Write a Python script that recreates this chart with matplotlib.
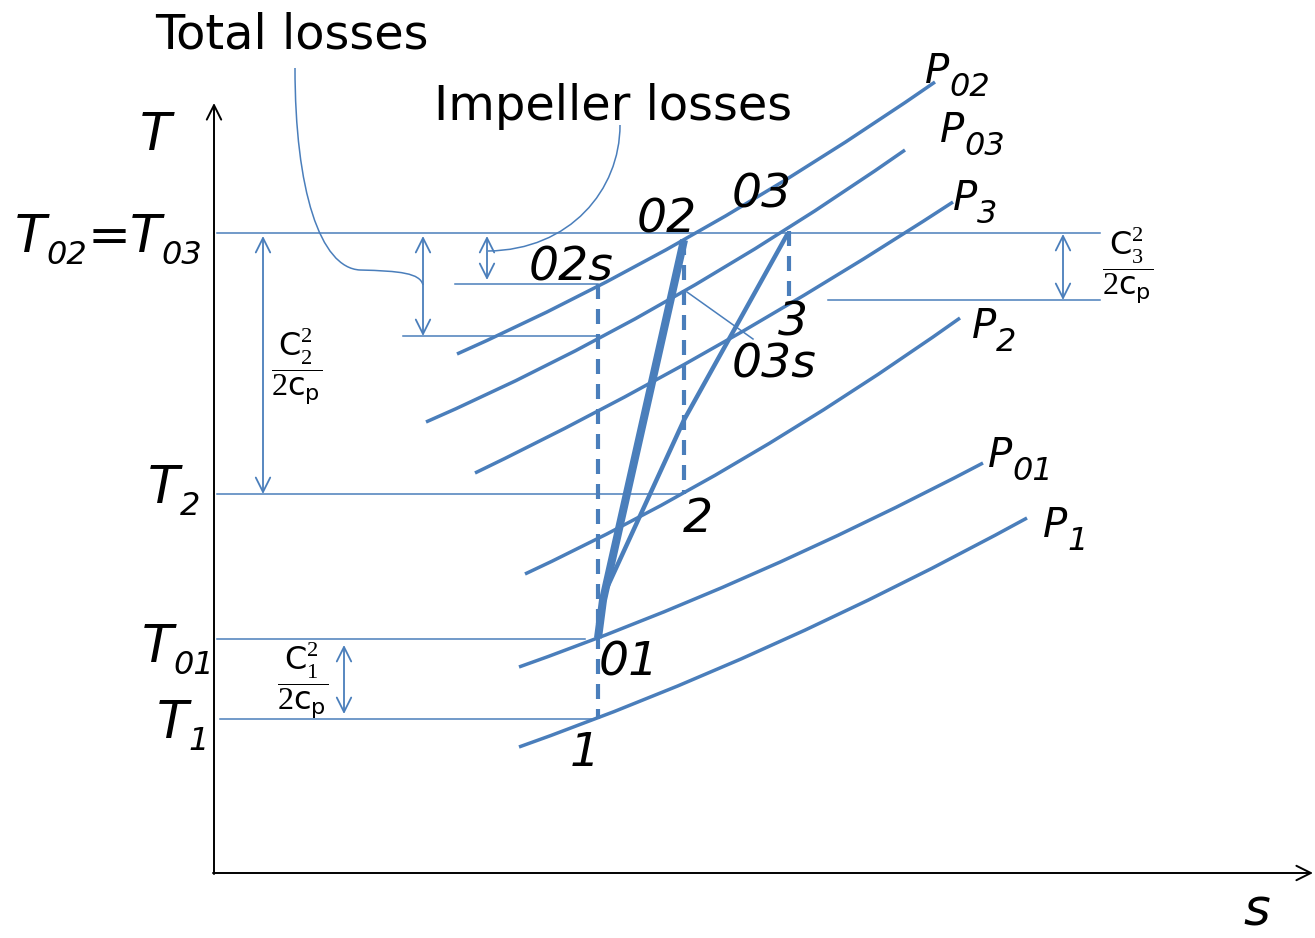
import matplotlib.pyplot as plt
from matplotlib.path import Path
from matplotlib.patches import PathPatch

plt.rcParams['font.family'] = 'DejaVu Sans'
plt.rcParams['mathtext.fontset'] = 'custom'
plt.rcParams['mathtext.it'] = 'DejaVu Sans:italic'
plt.rcParams['mathtext.rm'] = 'DejaVu Sans:italic'
plt.rcParams['mathtext.sf'] = 'DejaVu Sans'
plt.rcParams['mathtext.bf'] = 'Liberation Serif'

BLUE = '#4a7ebb'

# constant pressure lines, each as start / bend / end point in (s, T)
isobar_names = ['02', '03', '3', '2', '01', '1']
isobar_start = [(2.43, 5.19), (2.12, 4.51), (2.61, 4.00), (3.11, 2.99), (3.05, 2.06), (3.05, 1.26)]
isobar_bend = [(4.82, 6.25), (4.51, 5.55), (5.00, 5.15), (5.28, 4.00), (5.37, 2.88), (5.59, 2.16)]
isobar_end = [(7.21, 7.91), (6.91, 7.23), (7.39, 6.71), (7.46, 5.55), (7.69, 4.10), (8.13, 3.55)]

# state points
state_names = ['1', '01', '2', '02s', '02', '03s', '03', '3']
state_s = [3.81, 3.84, 4.70, 3.84, 4.70, 3.84, 5.74, 5.75]
state_T = [1.54, 2.35, 3.79, 5.89, 6.33, 5.37, 6.40, 5.73]

# compression paths 01 -> 02 (impeller) and 01 -> 03 (whole stage)
impeller_s = [3.84, 3.89, 4.70]
impeller_T = [2.35, 2.73, 6.33]
stage_s = [3.84, 3.92, 4.70, 5.74]
stage_T = [2.38, 2.83, 4.53, 6.40]

# temperature levels: T, s from, s to
level_T = [6.40, 5.89, 5.37, 3.79, 2.34, 1.54, 5.73]
level_s0 = [0.03, 2.41, 1.89, 0.03, 0.03, 0.06, 6.14]
level_s1 = [8.86, 3.84, 3.84, 4.66, 3.71, 3.81, 8.86]

# vertical drops: s, T top, T bottom
drop_s = [3.84, 4.70, 5.75]
drop_top = [5.89, 6.33, 6.42]
drop_bot = [1.54, 3.79, 5.73]

# dimension arrows: s, T top, T bottom
dim_s = [0.49, 2.09, 2.73, 8.49, 1.30]
dim_top = [6.37, 6.37, 6.37, 6.39, 2.28]
dim_bot = [3.79, 5.37, 5.93, 5.73, 1.59]

fig = plt.figure(figsize=(13.15, 9.38), dpi=100)
ax = fig.add_axes([0, 0, 1, 1])
ax.set_xlim(-2.14, 11.01)
ax.set_ylim(-0.65, 8.73)
ax.axis('off')
renderer = fig.canvas.get_renderer()


def sub_label(x, y, parts, size, sub_size, drop):
    # parts: (text, is subscript), laid out left to right from (x, y)
    dx = 0
    for text, is_sub in parts:
        t = ax.annotate(text, xy=(x, y), xytext=(dx, -drop if is_sub else 0),
                        textcoords='offset pixels',
                        fontsize=sub_size if is_sub else size,
                        fontstyle='italic', ha='left', va='baseline')
        dx += t.get_window_extent(renderer).width


# axes with open arrow heads
ax.annotate('', xy=(0, 7.70), xytext=(0, -0.01),
            arrowprops=dict(arrowstyle='->', color='black', lw=1.4,
                            mutation_scale=26, shrinkA=0, shrinkB=0))
ax.annotate('', xy=(10.99, 0), xytext=(-0.01, 0),
            arrowprops=dict(arrowstyle='->', color='black', lw=1.4,
                            mutation_scale=26, shrinkA=0, shrinkB=0))

for p0, c, p1 in zip(isobar_start, isobar_bend, isobar_end):
    path = Path([p0, c, p1], [Path.MOVETO, Path.CURVE3, Path.CURVE3])
    ax.add_patch(PathPatch(path, fill=False, ec=BLUE, lw=2.5, capstyle='butt'))

for T, s0, s1 in zip(level_T, level_s0, level_s1):
    ax.plot([s0, s1], [T, T], color=BLUE, lw=1.1)

for s, t0, t1 in zip(drop_s, drop_top, drop_bot):
    ax.plot([s, s], [t0, t1], color=BLUE, lw=3, ls=(0, (3.6, 2.4)))

ax.plot(impeller_s, impeller_T, color=BLUE, lw=5.8, solid_capstyle='butt',
        solid_joinstyle='round')
ax.plot(stage_s, stage_T, color=BLUE, lw=3.2, solid_capstyle='butt',
        solid_joinstyle='round')

# pointer to the 03s state
ax.plot([4.73, 5.39], [5.81, 5.34], color=BLUE, lw=1.1)

for s, t0, t1 in zip(dim_s, dim_top, dim_bot):
    ax.annotate('', xy=(s, t1), xytext=(s, t0),
                arrowprops=dict(arrowstyle='<->', color=BLUE, lw=1.3,
                                mutation_scale=26, shrinkA=0, shrinkB=0))

# leader curves for the loss captions
total_leader = Path([(0.81, 8.05), (0.81, 6.83), (1.06, 6.05), (1.46, 6.03),
                     (1.86, 6.02), (2.06, 6.00), (2.09, 5.88)],
                    [Path.MOVETO, Path.CURVE4, Path.CURVE4, Path.CURVE4,
                     Path.CURVE4, Path.CURVE4, Path.CURVE4])
impeller_leader = Path([(4.06, 7.48), (4.06, 6.83), (3.56, 6.23), (2.74, 6.22)],
                       [Path.MOVETO, Path.CURVE4, Path.CURVE4, Path.CURVE4])
for p in (total_leader, impeller_leader):
    ax.add_patch(PathPatch(p, fill=False, ec=BLUE, lw=1.1))

ax.text(-0.59, 8.25, 'Total losses', fontsize=34.5, va='baseline')
ax.text(2.20, 7.53, 'Impeller losses', fontsize=34.5, va='baseline')

# axis names and temperature labels
ax.text(-0.74, 7.23, 'T', fontsize=37, fontstyle='italic', va='baseline')
ax.text(10.43, -0.52, 's', fontsize=37, fontstyle='italic', va='baseline', ha='center')
sub_label(-1.99, 6.21, [('T', False), ('02', True), ('=', False),
                        ('T', False), ('03', True)], 37, 23, 12)
sub_label(-0.66, 3.70, [('T', False), ('2', True)], 37, 23, 12)
sub_label(-0.72, 2.11, [('T', False), ('01', True)], 37, 23, 12)
sub_label(-0.57, 1.35, [('T', False), ('1', True)], 37, 23, 12)

# state labels
state_label_pos = {'1': (3.71, 1.07), '01': (4.15, 1.98), '2': (4.84, 3.41),
                   '02s': (3.57, 5.93), '02': (4.53, 6.41), '03s': (5.60, 4.96),
                   '03': (5.48, 6.66), '3': (5.79, 5.38)}
for name in state_names:
    x, y = state_label_pos[name]
    ax.text(x, y, name, fontsize=34, fontstyle='italic', ha='center', va='baseline')

isobar_label_pos = [(7.11, 7.90), (7.26, 7.31), (7.39, 6.63), (7.58, 5.35),
                    (7.74, 4.06), (8.29, 3.36)]
for name, (x, y) in zip(isobar_names, isobar_label_pos):
    sub_label(x, y, [('P', False), (name, True)], 29, 23, 13)

# kinetic energy terms
frac = r'$\dfrac{\mathsf{C}_{\mathbf{%s}}^{\mathbf{2}}}{\mathbf{2}\mathsf{c}_{\mathsf{p}}}$'
ax.text(0.83, 5.07, frac % '2', fontsize=23, ha='center', va='center')
ax.text(9.14, 6.08, frac % '3', fontsize=23, ha='center', va='center')
ax.text(0.89, 1.93, frac % '1', fontsize=23, ha='center', va='center')

fig.savefig('out.png', dpi=100)
